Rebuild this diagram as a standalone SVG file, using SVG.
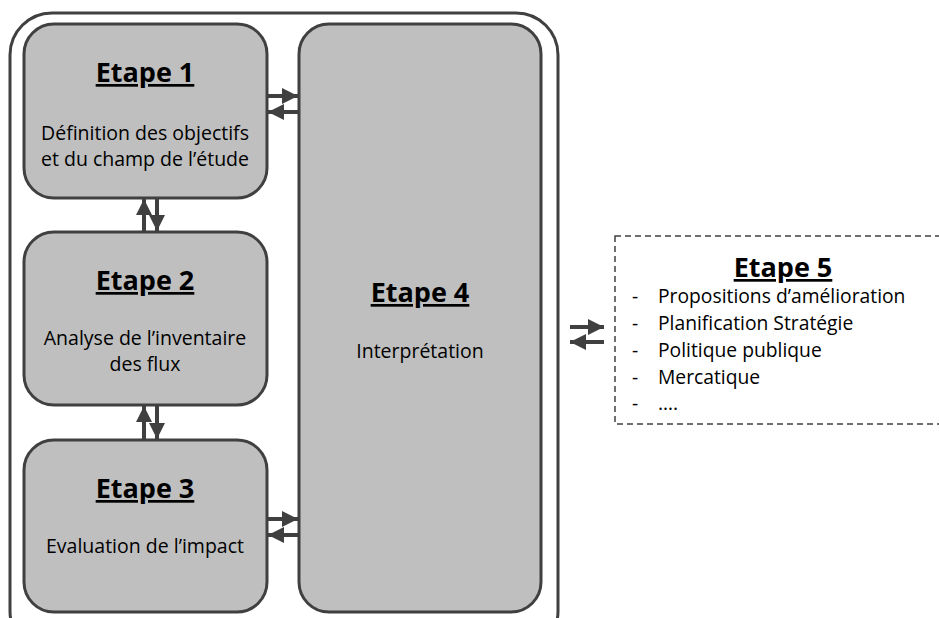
<svg xmlns="http://www.w3.org/2000/svg" width="939" height="618" viewBox="0 0 939 618">
<style>
.box{fill:#bfbfbf;stroke:#404040;stroke-width:3}
.frame{fill:none;stroke:#404040;stroke-width:3}
.t{font-family:"Open Sans","Liberation Sans",Arial,sans-serif;fill:#000}
.h{font-size:27px;font-weight:bold;text-decoration:underline;text-anchor:middle}
.b{font-size:19.5px;text-anchor:middle}
.l{font-size:19.3px}
.c{stroke:#404040;stroke-width:4;fill:none;marker-end:url(#ah)}
</style>
<defs>
<marker id="ah" viewBox="0 0 10 10" refX="10" refY="5" markerWidth="4" markerHeight="4" markerUnits="strokeWidth" orient="auto">
<path d="M0,0 L10,5 L0,10 z" fill="#404040"/>
</marker>
</defs>
<rect width="939" height="618" fill="#fff"/>
<rect class="frame" x="10" y="13" width="548" height="640" rx="42"/>
<g id="etape1">
<rect class="box" x="24" y="24" width="243" height="174" rx="30"/>
<text class="t h" x="145" y="82">Etape 1</text>
<text class="t b" x="145" y="140">Définition des objectifs</text>
<text class="t b" x="145" y="166">et du champ de l’étude</text>
</g>
<g id="etape2">
<rect class="box" x="24" y="232" width="243" height="173" rx="30"/>
<text class="t h" x="145" y="290">Etape 2</text>
<text class="t b" x="145" y="345">Analyse de l’inventaire</text>
<text class="t b" x="145" y="371">des flux</text>
</g>
<g id="etape3">
<rect class="box" x="24" y="440" width="243" height="172" rx="30"/>
<text class="t h" x="145" y="498">Etape 3</text>
<text class="t b" x="145" y="553">Evaluation de l’impact</text>
</g>
<g id="etape4">
<rect class="box" x="299" y="24" width="242" height="588" rx="30"/>
<text class="t h" x="420" y="302">Etape 4</text>
<text class="t b" x="420" y="358">Interprétation</text>
</g>
<g id="etape5">
<rect x="615" y="236" width="340" height="188" fill="none" stroke="#404040" stroke-width="1.5" stroke-dasharray="6,4"/>
<text class="t h" x="783" y="277">Etape 5</text>
<g class="t l">
<text x="632" y="303">-</text><text x="658" y="303">Propositions d’amélioration</text>
<text x="632" y="330">-</text><text x="658" y="330">Planification Stratégie</text>
<text x="632" y="357">-</text><text x="658" y="357">Politique publique</text>
<text x="632" y="384">-</text><text x="658" y="384">Mercatique</text>
<text x="632" y="410">-</text><text x="658" y="410">….</text>
</g>
</g>
<g id="connectors">
<line class="c" x1="268" y1="96" x2="298" y2="96"/>
<line class="c" x1="298" y1="112" x2="268" y2="112"/>
<line class="c" x1="144" y1="232" x2="144" y2="199"/>
<line class="c" x1="157" y1="199" x2="157" y2="231"/>
<line class="c" x1="144" y1="440" x2="144" y2="406"/>
<line class="c" x1="157" y1="406" x2="157" y2="439"/>
<line class="c" x1="268" y1="519" x2="298" y2="519"/>
<line class="c" x1="298" y1="535" x2="268" y2="535"/>
<line class="c" x1="570" y1="327" x2="604" y2="327"/>
<line class="c" x1="604" y1="342" x2="570" y2="342"/>
</g>
</svg>
